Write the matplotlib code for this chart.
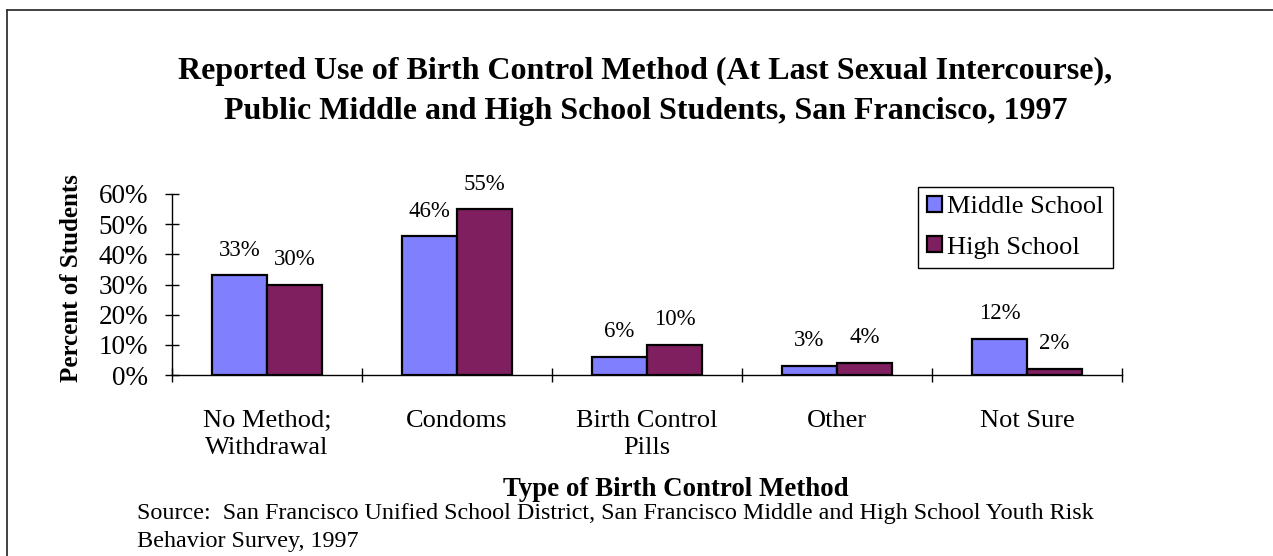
import numpy as np
import matplotlib
matplotlib.use("Agg")
import matplotlib.pyplot as plt
from matplotlib.lines import Line2D

plt.rcParams['font.family'] = ['Liberation Serif', 'DejaVu Serif']

categories = ['No Method;\nWithdrawal', 'Condoms', 'Birth Control\nPills', 'Other', 'Not Sure']
middle_school = [0.33, 0.46, 0.06, 0.03, 0.12]
high_school = [0.30, 0.55, 0.10, 0.04, 0.02]
series_names = ['Middle School', 'High School']
colors = ['#8080ff', '#7f1f5f']

fig = plt.figure(figsize=(12.73, 5.56), dpi=100)
ax = fig.add_axes([0.1351, 0.3255, 0.7463, 0.3256])

x = np.arange(len(categories)) + 0.5
width = 0.29
bars1 = ax.bar(x - width / 2, middle_school, width, color=colors[0],
               edgecolor='black', linewidth=1.6, label=series_names[0])
bars2 = ax.bar(x + width / 2, high_school, width, color=colors[1],
               edgecolor='black', linewidth=1.6, label=series_names[1])

for bars, vals in [(bars1, middle_school), (bars2, high_school)]:
    for b, v in zip(bars, vals):
        ax.annotate(f'{v * 100:.0f}%', (b.get_x() + b.get_width() / 2, v),
                    xytext=(0, 18), textcoords='offset points',
                    ha='center', va='center', fontsize=16.5)

ax.set_xlim(0, len(categories))
ax.set_ylim(0, 0.6)
ax.set_yticks(np.arange(0, 0.61, 0.1))
ax.set_yticklabels([f'{int(round(t * 100))}%' for t in np.arange(0, 0.61, 0.1)], fontsize=19.5)
ax.set_xticks(np.arange(len(categories) + 1))
ax.set_xticklabels([])
ax.set_xticks(x, minor=True)
ax.set_xticklabels(categories, minor=True, fontsize=19, linespacing=1.3)
ax.tick_params(axis='x', which='minor', length=0, pad=25)
ax.tick_params(axis='both', which='major', direction='inout', length=10, width=1.0)
ax.tick_params(axis='y', pad=12)

for s in ['top', 'right']:
    ax.spines[s].set_visible(False)
ax.spines['left'].set_linewidth(1.0)
ax.spines['bottom'].set_linewidth(1.0)

ax.set_ylabel('Percent of Students', fontsize=18, fontweight='bold')
ax.yaxis.set_label_coords(-0.094, 0.535)

fig.text(0.531, 0.12, 'Type of Birth Control Method', ha='center', va='center',
         fontsize=19.4, fontweight='bold')

fig.text(0.507, 0.835, 'Reported Use of Birth Control Method (At Last Sexual Intercourse),\n'
         'Public Middle and High School Students, San Francisco, 1997',
         ha='center', va='center', fontsize=23, fontweight='bold', linespacing=1.5)

fig.text(0.1076, 0.077, 'Source:  San Francisco Unified School District, San Francisco Middle and High School Youth Risk',
         ha='left', va='center', fontsize=17.4)
fig.text(0.1076, 0.026, 'Behavior Survey, 1997', ha='left', va='center', fontsize=17.4)

leg = fig.legend(loc='upper left', bbox_to_anchor=(0.721, 0.664), fontsize=19,
                 frameon=True, fancybox=False, framealpha=1, edgecolor='black',
                 handlelength=0.55, handleheight=0.55, handletextpad=0.2,
                 labelspacing=0.68, borderpad=0.35, borderaxespad=0)
leg.get_frame().set_linewidth(1.0)

# outer border (left and top only visible in the crop)
fig.add_artist(Line2D([0.0055, 0.0055], [0.0, 0.982], transform=fig.transFigure,
                      color='#333333', linewidth=1.3))
fig.add_artist(Line2D([0.0055, 1.0], [0.982, 0.982], transform=fig.transFigure,
                      color='#333333', linewidth=1.3))

fig.savefig('out.png', dpi=100, facecolor='white')
